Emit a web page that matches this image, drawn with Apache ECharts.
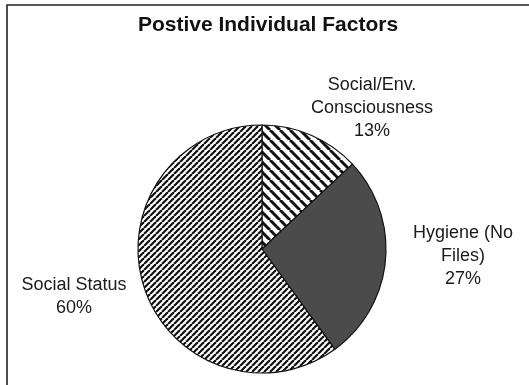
<!DOCTYPE html>
<html>
<head>
<meta charset="utf-8">
<script src="https://cdn.jsdelivr.net/npm/echarts@6/dist/echarts.min.js"></script>
<style>
  html, body { margin: 0; padding: 0; background: #fff; }
  #chart { width: 529px; height: 385px; }
</style>
</head>
<body>
<div id="chart"></div>
<script>
// Slices, clockwise from 12 o'clock
const categories = ['Social/Env.\nConsciousness', 'Hygiene (No\nFiles)', 'Social Status'];
const shares = [13, 27, 60];
const chartTitle = 'Postive Individual Factors';

// Diagonal hatch tile; dir = 1 draws "/" lines, dir = -1 draws "\" lines
function hatch(size, width, dir) {
  const c = document.createElement('canvas');
  c.width = size; c.height = size;
  const g = c.getContext('2d');
  g.fillStyle = '#fff';
  g.fillRect(0, 0, size, size);
  g.strokeStyle = '#111';
  g.lineWidth = width;
  for (const off of [-size, 0, size]) {
    g.beginPath();
    if (dir > 0) {
      g.moveTo(off, size); g.lineTo(off + size, 0);
    } else {
      g.moveTo(off, 0); g.lineTo(off + size, size);
    }
    g.stroke();
  }
  return c;
}

const fills = [
  { image: hatch(10, 3, -1), repeat: 'repeat' },
  '#4b4b4b',
  { image: hatch(6, 2.2, 1), repeat: 'repeat' }
];

// Label anchor points for each slice
const labelSpots = [[372, 108], [463, 256], [74, 297]];

const chart = echarts.init(document.getElementById('chart'), null, { renderer: 'canvas' });
chart.setOption({
  backgroundColor: '#fff',
  animation: false,
  title: {
    text: chartTitle,
    left: 263,
    top: 10,
    textAlign: 'center',
    textStyle: { fontFamily: 'Liberation Sans, Arial, sans-serif', fontSize: 21, fontWeight: 'bold', color: '#111' }
  },
  graphic: [
    {
      type: 'polyline',
      shape: { points: [[7, 385], [7, 5], [529, 5]] },
      style: { stroke: '#222', lineWidth: 1.6, fill: null }
    }
  ],
  series: [{
    type: 'pie',
    center: [262, 249],
    radius: 124,
    startAngle: 90,
    clockwise: true,
    avoidLabelOverlap: false,
    data: categories.map((name, i) => ({ name, value: shares[i], itemStyle: { color: fills[i] } })),
    itemStyle: { borderColor: '#111', borderWidth: 1.2 },
    label: {
      show: true,
      position: 'outside',
      formatter: '{b}\n{c}%',
      fontFamily: 'Liberation Sans, Arial, sans-serif',
      fontSize: 18,
      lineHeight: 23,
      color: '#1a1a1a',
      align: 'center',
      overflow: 'none'
    },
    labelLine: { show: false },
    labelLayout: function (p) {
      const s = labelSpots[p.dataIndex];
      return { x: s[0], y: s[1], align: 'center', verticalAlign: 'middle' };
    },
    emphasis: { disabled: true }
  }]
});
</script>
</body>
</html>
